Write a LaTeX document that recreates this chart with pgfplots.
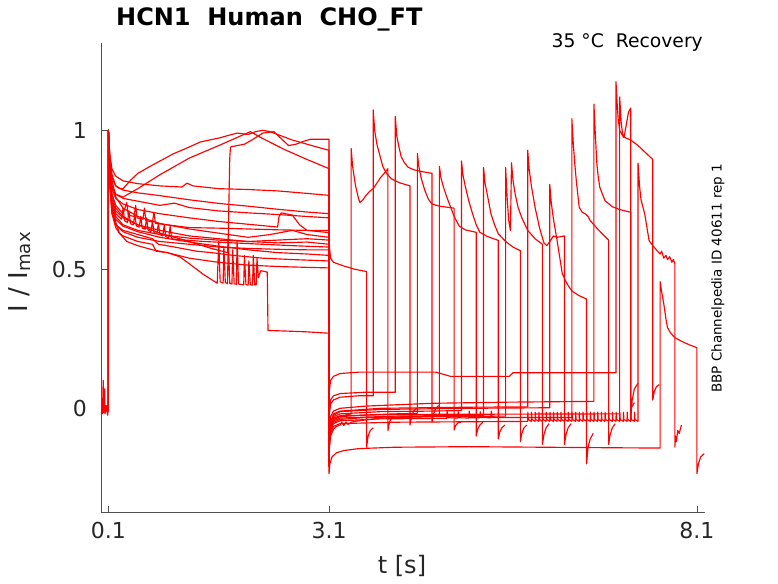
\documentclass[border=0pt]{standalone}
\usepackage{pgfplots}
\pgfplotsset{compat=1.18}
\usepackage{fontspec}
\setmainfont{DejaVu Sans}
\definecolor{axgray}{RGB}{80,80,80}
\definecolor{txtgray}{RGB}{38,38,38}
\pgfplotsset{tr/.style={color=red, solid, line width=1.15pt, mark=none, line join=round}}
\begin{document}
\begin{tikzpicture}[x=1pt,y=1pt]
\path[use as bounding box] (0,0) rectangle (778,583);
\begin{axis}[
  at={(101pt,70.3pt)}, anchor=south west,
  scale only axis, width=604pt, height=469.7pt,
  xmin=0, xmax=8.21, ymin=-0.3755, ymax=1.314,
  axis x line*=bottom, axis y line*=left,
  axis line style={color=axgray, line width=0.8pt},
  xtick={0.1,3.1,8.1}, xticklabels={0.1,3.1,8.1},
  ytick={0,0.5,1}, yticklabels={0,0.5,1},
  tick align=inside, major tick length=7pt,
  every tick/.style={color=axgray, line width=0.8pt},
  /pgf/number format/assume math mode=true,
  ticklabel style={font=\fontsize{22}{26}\selectfont, text=txtgray},
  xticklabel style={yshift=-6pt},
  yticklabel style={xshift=-10.5pt},
  clip=true,
]
% k=0
\addplot[tr] coordinates {(0,0.005)(0.05,-0.01)(0.1,0)(0.1,1)(0.12,0.9)(0.15,0.82)(0.2,0.76)(0.3,0.72)(0.5,0.69)(0.8,0.665)(1.2,0.645)(1.6,0.63)(2.0,0.615)(2.3,0.625)(2.6,0.64)(2.8,0.625)(3.1,0.615)(3.105,0.58)(3.12,0.54)(3.16,0.525)(3.3,0.512)(3.45,0.5)(3.61,0.492)(3.61,-0.14)(3.63,-0.1)(3.66,-0.08)(3.7,-0.07)};
% k=1
\addplot[tr] coordinates {(0,-0.01)(0.1,0.0)(0.1,1)(0.12,0.85)(0.15,0.74)(0.2,0.67)(0.25,0.63)(0.35,0.6)(0.5,0.585)(0.7,0.57)(0.9,0.56)(1.07,0.545)(1.2,0.52)(1.4,0.48)(1.58,0.45)(1.6,0.6)(1.62,0.455)(1.66,0.45)(1.67,0.58)(1.69,0.452)(1.72,0.448)(1.73,0.61)(1.75,0.45)(1.78,0.447)(1.79,0.57)(1.81,0.448)(1.84,0.446)(1.85,0.6)(1.87,0.447)(1.94,0.444)(1.95,0.55)(1.97,0.445)(2.0,0.443)(2.01,0.53)(2.03,0.444)(2.06,0.443)(2.07,0.55)(2.09,0.444)(2.11,0.445)(2.12,0.54)(2.14,0.47)(2.17,0.495)(2.26,0.49)(2.27,0.28)(2.5,0.278)(2.8,0.275)(3.1,0.27)(3.1,-0.15)(3.105,-0.1)(3.12,-0.06)(3.16,-0.04)(3.25,-0.028)(3.4,-0.02)(3.4,0.935)(3.42,0.87)(3.46,0.8)(3.5,0.755)(3.52,0.74)(3.56,0.75)(3.6,0.765)(3.65,0.78)(3.7,0.79)(3.75,0.81)(3.8,0.83)(3.85,0.845)(3.9,0.862)(3.9,-0.08)(3.92,-0.05)(3.95,-0.035)(3.99,-0.03)};
% k=2
\addplot[tr] coordinates {(0,0)(0.02,-0.02)(0.03,0.1)(0.035,-0.015)(0.05,0.07)(0.055,-0.02)(0.07,0.01)(0.09,-0.025)(0.1,0)(0.1,1)(0.12,0.9)(0.15,0.84)(0.2,0.8)(0.25,0.79)(0.3,0.79)(0.4,0.82)(0.5,0.845)(0.7,0.875)(0.98,0.915)(1.2,0.94)(1.35,0.958)(1.6,0.972)(1.85,0.99)(2.0,0.985)(2.1,0.995)(2.2,1.0)(2.3,0.995)(2.45,0.98)(2.6,0.965)(2.8,0.95)(3.0,0.935)(3.1,0.928)(3.1,-0.1)(3.105,-0.02)(3.12,0.015)(3.16,0.03)(3.25,0.04)(3.5,0.045)(3.7,0.045)(3.7,1.073)(3.72,1.0)(3.75,0.95)(3.78,0.92)(3.83,0.87)(3.88,0.845)(3.95,0.825)(4.05,0.812)(4.2,0.8)(4.2,-0.06)(4.22,-0.03)(4.25,-0.01)(4.29,0.0)};
% k=3
\addplot[tr] coordinates {(0,0)(0.1,0.01)(0.1,1)(0.12,0.86)(0.15,0.77)(0.2,0.72)(0.3,0.69)(0.5,0.66)(0.8,0.63)(1.2,0.6)(1.5,0.575)(1.72,0.56)(1.73,0.62)(1.75,0.9)(1.76,0.94)(1.85,0.945)(1.95,0.95)(2.05,0.965)(2.2,0.99)(2.35,0.995)(2.45,0.97)(2.55,0.945)(2.65,0.95)(2.75,0.96)(2.85,0.968)(3.1,0.968)(3.1,-0.08)(3.105,0.0)(3.12,0.03)(3.16,0.045)(3.25,0.053)(3.6,0.058)(4.0,0.058)(4.0,1.05)(4.02,0.98)(4.05,0.94)(4.08,0.905)(4.12,0.885)(4.17,0.868)(4.25,0.858)(4.35,0.852)(4.5,0.845)(4.5,-0.05)(4.52,-0.02)(4.55,0.0)(4.59,0.01)};
% k=4
\addplot[tr] coordinates {(0,0.005)(0.1,-0.005)(0.1,1)(0.12,0.91)(0.15,0.86)(0.2,0.835)(0.3,0.818)(0.5,0.808)(0.8,0.8)(1.1,0.796)(1.17,0.81)(1.25,0.8)(1.6,0.79)(2.0,0.787)(2.4,0.782)(2.8,0.773)(3.1,0.766)(3.1,-0.18)(3.105,-0.11)(3.12,-0.06)(3.16,-0.04)(3.25,-0.03)(3.6,-0.024)(4.0,-0.02)(4.3,-0.018)(4.3,0.917)(4.32,0.87)(4.35,0.83)(4.4,0.785)(4.45,0.752)(4.5,0.735)(4.6,0.727)(4.8,0.72)(4.8,-0.078)(4.82,-0.062)(4.85,-0.053)(4.89,-0.05)};
% k=5
\addplot[tr] coordinates {(0,0)(0.1,0)(0.1,1)(0.12,0.89)(0.15,0.83)(0.2,0.8)(0.3,0.785)(0.5,0.775)(0.8,0.765)(1.2,0.75)(1.6,0.737)(2.0,0.727)(2.4,0.716)(2.8,0.706)(3.1,0.7)(3.1,-0.19)(3.105,-0.12)(3.12,-0.07)(3.16,-0.05)(3.25,-0.04)(3.6,-0.033)(4.2,-0.03)(4.6,-0.028)(4.6,0.87)(4.62,0.83)(4.65,0.8)(4.7,0.76)(4.75,0.725)(4.8,0.69)(4.87,0.655)(4.95,0.642)(5.1,0.633)(5.1,-0.1)(5.12,-0.075)(5.15,-0.06)(5.19,-0.05)};
% k=6
\addplot[tr] coordinates {(0,-0.005)(0.1,0.005)(0.1,1)(0.12,0.87)(0.15,0.8)(0.2,0.77)(0.3,0.755)(0.5,0.745)(0.8,0.73)(1.0,0.738)(1.2,0.722)(1.6,0.71)(2.0,0.703)(2.4,0.697)(2.8,0.69)(3.1,0.685)(3.1,-0.17)(3.105,-0.1)(3.12,-0.05)(3.16,-0.03)(3.25,-0.02)(3.8,-0.012)(4.5,-0.01)(4.9,-0.008)(4.9,0.89)(4.92,0.84)(4.95,0.8)(5.0,0.745)(5.05,0.7)(5.1,0.66)(5.15,0.633)(5.25,0.618)(5.4,0.604)(5.4,-0.11)(5.42,-0.085)(5.45,-0.07)(5.49,-0.06)};
% k=7
\addplot[tr] coordinates {(0,0.01)(0.1,0)(0.1,1)(0.12,0.86)(0.15,0.79)(0.2,0.755)(0.3,0.735)(0.5,0.715)(0.8,0.7)(1.2,0.685)(1.6,0.672)(2.0,0.662)(2.4,0.652)(2.42,0.69)(2.45,0.703)(2.6,0.695)(2.7,0.66)(2.8,0.64)(3.1,0.632)(3.1,-0.2)(3.105,-0.12)(3.12,-0.07)(3.16,-0.045)(3.25,-0.035)(4.0,-0.028)(5.2,-0.025)(5.2,0.866)(5.22,0.81)(5.25,0.77)(5.3,0.7)(5.35,0.66)(5.4,0.628)(5.5,0.6)(5.6,0.58)(5.7,0.567)(5.7,-0.12)(5.72,-0.09)(5.75,-0.07)(5.79,-0.06)};
% k=8
\addplot[tr] coordinates {(0,-0.01)(0.1,-0.01)(0.1,1)(0.12,0.84)(0.15,0.75)(0.2,0.71)(0.3,0.685)(0.5,0.66)(0.8,0.64)(1.2,0.62)(1.6,0.61)(2.0,0.6)(2.4,0.595)(2.8,0.598)(3.1,0.59)(3.1,-0.21)(3.105,-0.14)(3.12,-0.1)(3.16,-0.075)(3.2,-0.065)(3.25,-0.06)(3.27,-0.05)(3.3,-0.062)(3.33,-0.05)(3.36,-0.058)(3.4,-0.05)(3.5,-0.045)(3.8,-0.035)(4.5,-0.03)(5.5,-0.028)(5.5,0.866)(5.52,0.76)(5.54,0.68)(5.565,0.64)(5.58,0.883)(5.6,0.82)(5.63,0.77)(5.67,0.722)(5.72,0.685)(5.8,0.64)(5.9,0.61)(6.0,0.59)(6.0,-0.13)(6.02,-0.095)(6.05,-0.07)(6.09,-0.055)};
% k=9
\addplot[tr] coordinates {(0,0)(0.1,-0.01)(0.1,1)(0.12,0.83)(0.15,0.74)(0.2,0.7)(0.28,0.68)(0.3,0.72)(0.32,0.675)(0.36,0.668)(0.38,0.71)(0.4,0.664)(0.44,0.66)(0.46,0.7)(0.48,0.656)(0.52,0.652)(0.54,0.69)(0.56,0.648)(0.6,0.644)(0.62,0.685)(0.64,0.64)(0.68,0.636)(0.7,0.675)(0.72,0.632)(0.76,0.628)(0.78,0.665)(0.8,0.625)(0.84,0.62)(0.86,0.66)(0.88,0.617)(0.92,0.614)(0.94,0.655)(0.96,0.611)(1.0,0.608)(1.4,0.6)(1.8,0.595)(2.2,0.59)(2.6,0.585)(3.1,0.58)(3.1,-0.19)(3.105,-0.1)(3.12,-0.05)(3.16,-0.02)(3.25,-0.01)(3.8,0.0)(5.0,0.004)(5.8,0.005)(5.8,0.928)(5.82,0.86)(5.85,0.8)(5.9,0.723)(5.96,0.65)(6.02,0.595)(6.06,0.585)(6.1,0.6)(6.15,0.62)(6.2,0.615)(6.3,0.62)(6.3,-0.13)(6.32,-0.095)(6.35,-0.07)(6.39,-0.055)};
% k=10
\addplot[tr] coordinates {(0,0.005)(0.1,0)(0.1,1)(0.12,0.82)(0.15,0.72)(0.2,0.68)(0.3,0.655)(0.5,0.635)(0.8,0.615)(1.2,0.598)(1.6,0.583)(2.0,0.57)(2.4,0.56)(2.8,0.555)(3.1,0.55)(3.1,-0.2)(3.105,-0.1)(3.12,-0.05)(3.16,-0.025)(3.25,-0.012)(3.8,-0.004)(5.0,0.0)(6.1,0.002)(6.1,0.805)(6.12,0.74)(6.15,0.68)(6.2,0.603)(6.27,0.484)(6.33,0.45)(6.4,0.422)(6.5,0.405)(6.6,0.393)(6.6,-0.2)(6.62,-0.14)(6.65,-0.11)(6.69,-0.09)};
% k=11
\addplot[tr] coordinates {(0,0)(0.1,0.005)(0.1,1)(0.12,0.8)(0.15,0.7)(0.2,0.65)(0.25,0.63)(0.3,0.62)(0.5,0.6)(0.7,0.59)(0.75,0.565)(0.9,0.56)(1.2,0.54)(1.6,0.525)(2.0,0.515)(2.4,0.51)(2.8,0.507)(3.1,0.505)(3.1,-0.21)(3.105,-0.13)(3.12,-0.08)(3.16,-0.055)(3.25,-0.045)(3.8,-0.038)(4.7,-0.036)(4.705,-0.01)(4.715,-0.034)(4.85,-0.035)(4.855,-0.012)(4.865,-0.034)(5.0,-0.035)(5.005,-0.01)(5.015,-0.034)(5.15,-0.034)(5.155,-0.012)(5.165,-0.033)(5.3,-0.034)(5.305,-0.01)(5.315,-0.033)(6.4,-0.033)(6.4,1.042)(6.42,0.95)(6.44,0.88)(6.46,0.82)(6.5,0.723)(6.54,0.705)(6.58,0.7)(6.62,0.69)(6.65,0.675)(6.75,0.645)(6.85,0.618)(6.9,0.605)(6.9,-0.13)(6.92,-0.095)(6.95,-0.07)(6.99,-0.055)};
% k=12
\addplot[tr] coordinates {(0,-0.005)(0.1,0.005)(0.1,1)(0.12,0.81)(0.15,0.71)(0.2,0.66)(0.3,0.64)(0.5,0.625)(0.7,0.61)(0.78,0.59)(1.0,0.58)(1.3,0.565)(1.5,0.56)(1.8,0.55)(2.2,0.54)(2.6,0.535)(3.1,0.53)(3.1,-0.18)(3.105,-0.08)(3.12,-0.03)(3.16,-0.01)(3.25,0.0)(3.6,0.008)(4.5,0.018)(5.5,0.022)(6.7,0.025)(6.7,1.094)(6.72,0.98)(6.74,0.88)(6.76,0.83)(6.78,0.795)(6.85,0.747)(6.95,0.725)(7.05,0.715)(7.2,0.705)(7.2,-0.04)(7.22,0.03)(7.25,0.07)(7.3,0.09)};
% k=13
\addplot[tr] coordinates {(0,0)(0.1,0.005)(0.1,1)(0.12,0.88)(0.15,0.8)(0.2,0.77)(0.3,0.76)(0.5,0.79)(0.8,0.84)(1.2,0.9)(1.6,0.945)(1.9,0.98)(2.03,0.995)(2.2,0.97)(2.5,0.93)(2.8,0.895)(3.1,0.862)(3.1,-0.1)(3.103,0.06)(3.12,0.1)(3.16,0.115)(3.25,0.125)(3.5,0.13)(4.55,0.13)(4.75,0.115)(5.55,0.115)(5.6,0.128)(7.0,0.128)(7.0,1.175)(7.015,1.1)(7.03,1.04)(7.05,1.0)(7.1,0.976)(7.2,0.965)(7.3,0.945)(7.4,0.92)(7.5,0.895)(7.5,0.03)(7.52,0.06)(7.55,0.078)(7.59,0.085)};
% k=14
\addplot[tr] coordinates {(0,0)(0.1,0)(0.1,1)(0.12,0.85)(0.15,0.77)(0.2,0.73)(0.3,0.7)(0.35,0.74)(0.37,0.695)(0.45,0.69)(0.47,0.73)(0.49,0.685)(0.57,0.68)(0.59,0.72)(0.61,0.675)(0.7,0.67)(0.72,0.705)(0.74,0.665)(0.9,0.66)(1.2,0.65)(1.6,0.648)(2.0,0.645)(2.4,0.642)(2.8,0.64)(3.1,0.64)(3.1,-0.2)(3.105,-0.13)(3.12,-0.09)(3.16,-0.065)(3.25,-0.055)(4.0,-0.05)(5.8,-0.047)
(5.802,-0.014)(5.808,-0.04)(5.85,-0.047)(5.852,-0.014)(5.858,-0.04)(5.90,-0.047)(5.902,-0.014)(5.908,-0.04)(5.95,-0.047)(5.952,-0.014)(5.958,-0.04)(6.00,-0.047)(6.002,-0.014)(6.008,-0.04)(6.05,-0.047)(6.052,-0.014)(6.058,-0.04)(6.10,-0.047)(6.102,-0.014)(6.108,-0.04)(6.15,-0.047)(6.152,-0.014)(6.158,-0.04)(6.20,-0.047)(6.202,-0.014)(6.208,-0.04)(6.25,-0.047)(6.252,-0.014)(6.258,-0.04)(6.30,-0.047)(6.302,-0.014)(6.308,-0.04)(6.35,-0.047)(6.352,-0.014)(6.358,-0.04)(6.40,-0.047)(6.402,-0.014)(6.408,-0.04)(6.45,-0.047)(6.452,-0.014)(6.458,-0.04)(6.50,-0.047)(6.502,-0.014)(6.508,-0.04)(6.55,-0.047)(6.552,-0.014)(6.558,-0.04)(6.60,-0.047)(6.602,-0.014)(6.608,-0.04)(6.65,-0.047)(6.652,-0.014)(6.658,-0.04)(6.70,-0.047)(6.702,-0.014)(6.708,-0.04)(6.75,-0.047)(6.752,-0.014)(6.758,-0.04)(6.80,-0.047)(6.802,-0.014)(6.808,-0.04)(6.85,-0.047)(6.852,-0.014)(6.858,-0.04)(6.90,-0.047)(6.902,-0.014)(6.908,-0.04)(6.95,-0.047)(6.952,-0.014)(6.958,-0.04)(7.00,-0.047)(7.002,-0.014)(7.008,-0.04)(7.05,-0.047)(7.052,-0.014)(7.058,-0.04)(7.10,-0.047)(7.102,-0.014)(7.108,-0.04)(7.15,-0.047)(7.152,-0.014)(7.158,-0.04)(7.20,-0.047)(7.202,-0.014)(7.208,-0.04)(7.25,-0.047)(7.252,-0.014)(7.258,-0.04)(7.3,-0.047)
(7.3,0.882)(7.32,0.8)(7.34,0.75)(7.39,0.7)(7.45,0.603)(7.5,0.585)(7.55,0.57)(7.6,0.555)(7.62,0.565)(7.65,0.54)(7.68,0.55)(7.7,0.535)(7.73,0.545)(7.76,0.525)(7.78,0.535)(7.8,0.521)(7.8,-0.14)(7.81,-0.1)(7.82,-0.12)(7.84,-0.08)(7.86,-0.09)(7.89,-0.06)};
% k=15
\addplot[tr] coordinates {(0,0.01)(0.1,-0.01)(0.1,1)(0.12,0.83)(0.15,0.73)(0.2,0.69)(0.3,0.66)(0.5,0.64)(0.8,0.625)(1.2,0.612)(1.6,0.605)(2.0,0.6)(2.4,0.605)(2.8,0.61)(3.1,0.605)(3.1,-0.235)(3.11,-0.2)(3.14,-0.175)(3.2,-0.16)(3.3,-0.152)(3.5,-0.145)(4.0,-0.14)(5.0,-0.138)(6.0,-0.14)(7.0,-0.142)(7.6,-0.143)(7.6,0.456)(7.62,0.42)(7.65,0.375)(7.68,0.32)(7.7,0.29)(7.75,0.268)(7.8,0.254)(7.9,0.24)(8.0,0.228)(8.1,0.218)(8.1,-0.235)(8.12,-0.2)(8.15,-0.175)(8.2,-0.163)};
% extra
\addplot[tr] coordinates {(0,-0.015)(0.1,0)(0.1,1)(0.12,0.8)(0.15,0.7)(0.2,0.66)(0.3,0.635)(0.5,0.615)(0.8,0.6)(1.2,0.59)(1.6,0.58)(2.0,0.575)(2.4,0.572)(2.8,0.57)(3.1,0.57)(3.1,-0.2)(3.105,-0.11)(3.12,-0.06)(3.16,-0.035)(3.25,-0.027)(4.0,-0.022)(7.05,-0.02)(7.05,1.12)(7.07,1.03)(7.09,0.985)(7.11,0.976)(7.14,1.02)(7.17,1.065)(7.2,1.08)(7.2,0.0)(7.25,0.02)};
\end{axis}
\node[anchor=base west, inner sep=0, text=black] at (116,557) {\fontsize{24}{28}\selectfont\bfseries HCN1\ \ Human\ \ CHO\_FT};
\node[anchor=base east, inner sep=0, text=black] at (703,535.7) {\fontsize{18.75}{22}\selectfont 35 °C\ \ Recovery};
\node[anchor=base, inner sep=0, text=txtgray] at (402,9.4) {\fontsize{24}{28}\selectfont t [s]};
\node[anchor=base, inner sep=0, rotate=90, text=txtgray] at (27,311) {\fontsize{26}{30}\selectfont I / I\textsubscript{max}};
\node[anchor=base, inner sep=0, rotate=90, text=black] at (721.7,304.7) {\fontsize{13.5}{16}\selectfont BBP Channelpedia ID 40611 rep 1};
\end{tikzpicture}
\end{document}
